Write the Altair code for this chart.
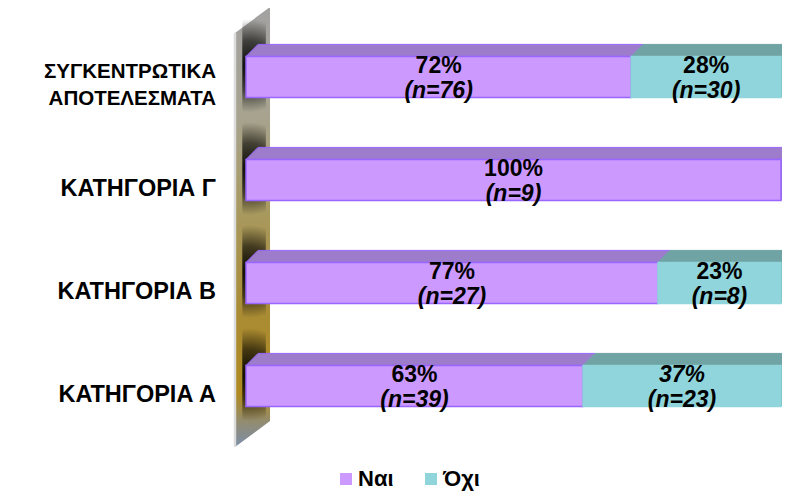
import altair as alt
import pandas as pd

# ---------------- data ----------------
categories = ["ΣΥΓΚΕΝΤΡΩΤΙΚΑ\nΑΠΟΤΕΛΕΣΜΑΤΑ", "ΚΑΤΗΓΟΡΙΑ Γ", "ΚΑΤΗΓΟΡΙΑ Β", "ΚΑΤΗΓΟΡΙΑ Α"]
series = ["Ναι", "Όχι"]
yes_pct = [72, 100, 77, 63]
no_pct = [28, 0, 23, 37]
yes_n = [76, 9, 27, 39]
no_n = [30, 0, 8, 23]

# ---------------- styling / geometry constants ----------------
FONT = "Liberation Sans"
PURPLE, PURPLE_TOP, PURPLE_EDGE = "#CC99FF", "#9C7CCB", "#9966FF"
TEAL, TEAL_TOP, TEAL_SIDE = "#8FD5DB", "#6FA3A4", "#5E9A9B"
H = 0.2        # half bar height (category units)
DX = 2.24      # 3D depth offset in % units
DY = 0.1165    # 3D depth offset in category units
XMIN, XMAX = -2.243, 100.187
UMIN, UMAX = -0.6699, 3.602
LINE_H = 27    # px line height of category labels
PX_PER_U = 103.0

# ---------------- tables built from data ----------------
seg_rows = []
for i, cat in enumerate(categories):
    pcts = [yes_pct[i], no_pct[i]]
    ns = [yes_n[i], no_n[i]]
    last = max(k for k in range(2) if pcts[k] > 0)
    start = 0
    for k, s in enumerate(series):
        p = pcts[k]
        if p <= 0:
            continue
        seg_rows.append(dict(cat=cat, idx=i, series=s, start=start, end=start + p,
                             mid=start + p / 2, pct=f"{p}%", n=f"(n={ns[k]})",
                             last=(k == last)))
        start += p
seg = pd.DataFrame(seg_rows)
seg["id"] = range(len(seg))
seg["ytop"] = seg["idx"] - H
seg["ybot"] = seg["idx"] + H

top_rows, side_rows = [], []
for r in seg.itertuples():
    top_rows.append(dict(id=r.id, series=r.series, y=r.ytop, x=r.start, x2=r.end))
    top_rows.append(dict(id=r.id, series=r.series, y=r.ytop - DY, x=r.start + DX, x2=r.end + DX))
    if r.last:
        side_rows.append(dict(id=r.id, series=r.series, x=r.end, y=r.ytop, y2=r.ybot))
        side_rows.append(dict(id=r.id, series=r.series, x=r.end + DX, y=r.ytop - DY, y2=r.ybot - DY))
top_df = pd.DataFrame(top_rows)
side_df = pd.DataFrame(side_rows)

cat_df = pd.DataFrame({"cat": categories, "idx": list(range(len(categories)))})
cat_df["nlines"] = cat_df["cat"].str.count("\n") + 1
cat_df["ly"] = cat_df["idx"] - (cat_df["nlines"] - 1) * LINE_H / 2 / PX_PER_U
cat_df["s1"] = cat_df["idx"] - 0.56
cat_df["s2"] = cat_df["idx"] + 0.34
cat_df["sx1"] = -0.7
cat_df["sx2"] = 3.7

wall_df = pd.DataFrame({"x": [-2.06, 4.49], "y": [-0.427, -0.680], "y2": [3.592, 3.340]})

xs = alt.Scale(domain=[XMIN, XMAX], nice=False, zero=False)
ys = alt.Scale(domain=[UMIN, UMAX], reverse=True, nice=False, zero=False)

# ---------------- layers ----------------
wall = alt.Chart(wall_df).mark_area(
    orient="vertical",
    color=alt.Gradient(
        gradient="linear", x1=0, y1=0, x2=0, y2=1,
        stops=[alt.GradientStop(color="#a2a2a2", offset=0),
               alt.GradientStop(color="#a7a38f", offset=0.25),
               alt.GradientStop(color="#a89a62", offset=0.45),
               alt.GradientStop(color="#a98c36", offset=0.68),
               alt.GradientStop(color="#b08a20", offset=0.88),
               alt.GradientStop(color="#8f8c78", offset=0.95),
               alt.GradientStop(color="#7c8ea8", offset=1)])
).encode(
    x=alt.X("x:Q", scale=xs, axis=None),
    y=alt.Y("y:Q", scale=ys, axis=None),
    y2="y2:Q",
)

wall_edge = alt.Chart(wall_df.iloc[[0]]).mark_rule(color="#dcdcdc", strokeWidth=2.5).encode(
    x=alt.X("x:Q", scale=xs, axis=None),
    y=alt.Y("y:Q", scale=ys, axis=None),
    y2="y2:Q",
)

shadow = alt.Chart(cat_df).mark_rect(
    color=alt.Gradient(
        gradient="radial", x1=0.45, y1=0.5, r1=0, x2=0.45, y2=0.5, r2=0.5,
        stops=[alt.GradientStop(color="rgba(0,0,0,0.95)", offset=0),
               alt.GradientStop(color="rgba(0,0,0,0.6)", offset=0.55),
               alt.GradientStop(color="rgba(0,0,0,0)", offset=1)]),
).encode(
    x=alt.X("sx1:Q", scale=xs, axis=None),
    x2="sx2:Q",
    y=alt.Y("s1:Q", scale=ys, axis=None),
    y2="s2:Q",
)

top_face = alt.Chart(top_df).mark_area(orient="horizontal", strokeWidth=1).encode(
    y=alt.Y("y:Q", scale=ys, axis=None),
    x=alt.X("x:Q", scale=xs, axis=None),
    x2="x2:Q",
    detail="id:N",
    fill=alt.condition("datum.series == 'Ναι'", alt.value(PURPLE_TOP), alt.value(TEAL_TOP)),
    stroke=alt.condition("datum.series == 'Ναι'", alt.value(PURPLE_EDGE), alt.value(TEAL_TOP)),
)

side_face = alt.Chart(side_df).mark_area(orient="vertical").encode(
    x=alt.X("x:Q", scale=xs, axis=None),
    y=alt.Y("y:Q", scale=ys, axis=None),
    y2="y2:Q",
    detail="id:N",
    fill=alt.condition("datum.series == 'Ναι'", alt.value(PURPLE_TOP), alt.value(TEAL_SIDE)),
)

front = alt.Chart(seg).mark_rect(strokeWidth=1.5).encode(
    x=alt.X("start:Q", scale=xs, axis=None),
    x2="end:Q",
    y=alt.Y("ytop:Q", scale=ys, axis=None),
    y2="ybot:Q",
    color=alt.Color(
        "series:N", scale=alt.Scale(domain=series, range=[PURPLE, TEAL]),
        legend=alt.Legend(
            title=None, orient="none", legendX=101, legendY=460, direction="horizontal",
            symbolType="square", symbolSize=144, symbolStrokeWidth=0,
            labelFont=FONT, labelFontSize=22, labelFontWeight="bold", labelColor="black",
            labelOffset=1, columnPadding=26, padding=0,
        ),
    ),
    stroke=alt.condition("datum.series == 'Ναι'", alt.value(PURPLE_EDGE), alt.value(TEAL)),
)

italic_expr = "datum.cat == 'ΚΑΤΗΓΟΡΙΑ Α' && datum.series == 'Όχι'"

pct_text = alt.Chart(seg).transform_filter("!(" + italic_expr + ")").mark_text(
    font=FONT, fontSize=23, fontWeight="bold", color="black", baseline="middle", dy=-11
).encode(
    x=alt.X("mid:Q", scale=xs, axis=None),
    y=alt.Y("idx:Q", scale=ys, axis=None),
    text="pct:N",
)

pct_text_it = alt.Chart(seg).transform_filter(italic_expr).mark_text(
    font=FONT, fontSize=23, fontWeight="bold", fontStyle="italic", color="black",
    baseline="middle", dy=-11
).encode(
    x=alt.X("mid:Q", scale=xs, axis=None),
    y=alt.Y("idx:Q", scale=ys, axis=None),
    text="pct:N",
)

n_text = alt.Chart(seg).mark_text(
    font=FONT, fontSize=23, fontWeight="bold", fontStyle="italic", color="black",
    baseline="middle", dy=14
).encode(
    x=alt.X("mid:Q", scale=xs, axis=None),
    y=alt.Y("idx:Q", scale=ys, axis=None),
    text="n:N",
)

cat_base = alt.Chart(cat_df).encode(
    x=alt.value(-18),
    y=alt.Y("ly:Q", scale=ys, axis=None),
    text="cat:N",
)

cat_text_single = cat_base.transform_filter("datum.nlines == 1").mark_text(
    font=FONT, fontSize=23.5, fontWeight="bold", color="black", align="right",
    baseline="middle", dy=9, lineBreak="\n", lineHeight=LINE_H
)

cat_text_multi = cat_base.transform_filter("datum.nlines > 1").mark_text(
    font=FONT, fontSize=20.5, fontWeight="bold", color="black", align="right",
    baseline="middle", dy=9, lineBreak="\n", lineHeight=LINE_H
)

chart = alt.layer(
    wall, wall_edge, shadow, top_face, side_face, front,
    pct_text, pct_text_it, n_text, cat_text_single, cat_text_multi
).properties(
    width=548, height=440,
    padding={"left": 226, "top": 0, "right": 0, "bottom": 44},
    autosize="none",
    background="white",
).configure_view(stroke=None)

chart.save("out.html", embed_options={"renderer": "svg", "actions": False})
